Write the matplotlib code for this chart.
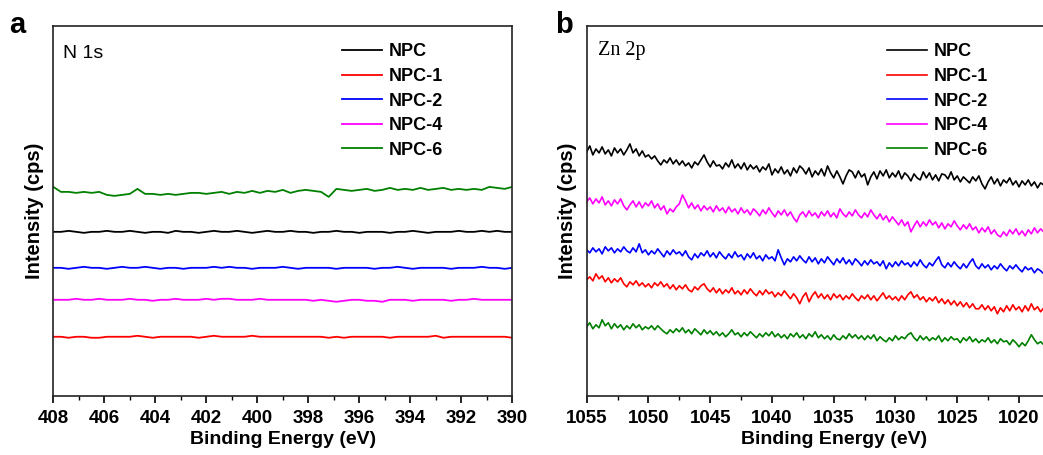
import numpy as np
import matplotlib
matplotlib.use("Agg")
import matplotlib.pyplot as plt
from matplotlib.ticker import MultipleLocator, FixedLocator

plt.rcParams['font.family'] = ['Liberation Sans', 'DejaVu Sans']

# --- Data (arbitrary intensity units)
labels = ["NPC", "NPC-1", "NPC-2", "NPC-4", "NPC-6"]
colors = ["#000000", "#ff0000", "#0000ff", "#ff00ff", "#008000"]

# Panel a: N 1s, 408 -> 390 eV in 0.3 eV steps (61 points)
energy_a = np.linspace(408, 390, 61)
npc_a = [164, 164, 165, 164, 163, 164, 164, 165, 164, 164, 165, 164, 163, 164, 164, 163,
         165, 164, 164, 163, 164, 165, 164, 164, 165, 164, 163, 164, 165, 164, 164, 165,
         164, 164, 163, 164, 164, 165, 164, 164, 163, 164, 164, 164, 163, 164, 164, 165,
         164, 163, 164, 164, 164, 165, 164, 164, 165, 164, 165, 164, 164]
npc1_a = [59, 59, 58, 59, 59, 58, 58, 59, 59, 59, 59, 60, 59, 58, 59, 59, 59, 59, 59, 58,
          59, 60, 59, 59, 59, 59, 60, 59, 59, 59, 59, 59, 59, 59, 59, 59, 58, 59, 58, 59,
          59, 59, 59, 59, 58, 59, 59, 59, 59, 59, 60, 58, 59, 59, 59, 59, 59, 59, 59, 59, 58]
npc2_a = [128, 128, 127, 128, 129, 128, 128, 127, 128, 129, 128, 128, 129, 128, 127, 128,
          128, 127, 128, 128, 128, 129, 128, 129, 128, 128, 127, 128, 128, 128, 129, 128,
          127, 128, 128, 128, 128, 127, 128, 128, 128, 128, 127, 128, 128, 129, 128, 127,
          128, 128, 128, 128, 127, 128, 128, 128, 129, 128, 128, 127, 128]
npc4_a = [96, 96, 96, 97, 96, 96, 97, 96, 96, 96, 97, 96, 96, 95, 96, 96, 97, 96, 96, 96,
          97, 96, 97, 97, 96, 96, 96, 97, 96, 96, 96, 96, 96, 96, 95, 96, 95, 94, 95, 96,
          96, 95, 95, 94, 96, 96, 96, 95, 96, 96, 96, 96, 95, 96, 96, 97, 96, 96, 96, 96, 96]
npc6_a = [209, 204, 204, 203, 204, 203, 204, 201, 200, 201, 202, 207, 202, 202, 201, 202,
          201, 202, 203, 203, 202, 203, 204, 202, 204, 203, 205, 203, 205, 204, 206, 203,
          205, 206, 205, 204, 199, 207, 206, 205, 206, 207, 205, 206, 208, 206, 207, 206,
          208, 206, 207, 208, 206, 207, 206, 207, 206, 209, 208, 207, 209]

# Panel b: Zn 2p, 1055 -> 1017.75 eV in 0.25 eV steps (150 points)
energy_b = np.linspace(1055, 1017.75, 150)
npc_b = [244, 250, 241, 247, 243, 249, 242, 246, 240, 248,
         243, 247, 241, 246, 252, 243, 247, 240, 245, 239,
         241, 237, 240, 235, 231, 236, 233, 238, 232, 236,
         231, 235, 230, 233, 228, 234, 231, 236, 241, 234,
         229, 235, 230, 231, 227, 233, 229, 236, 228, 232,
         227, 233, 226, 231, 227, 230, 224, 229, 226, 232,
         221, 227, 223, 229, 222, 226, 220, 228, 223, 230,
         227, 222, 228, 219, 225, 221, 227, 220, 230, 223,
         218, 225, 219, 212, 220, 226, 224, 218, 225, 219,
         222, 211, 219, 224, 217, 225, 220, 226, 218, 223,
         219, 225, 217, 223, 220, 215, 222, 218, 216, 224,
         218, 223, 216, 221, 215, 222, 221, 217, 224, 216,
         220, 214, 219, 216, 213, 219, 215, 220, 212, 207,
         214, 219, 212, 217, 210, 216, 213, 218, 211, 215,
         209, 215, 211, 216, 210, 214, 208, 213, 211, 209]
npc1_b = [116, 119, 115, 122, 117, 120, 114, 118, 113, 117,
          114, 118, 112, 109, 114, 111, 115, 110, 113, 109,
          112, 108, 113, 110, 114, 109, 112, 107, 111, 106,
          110, 107, 111, 106, 104, 109, 106, 110, 112, 107,
          104, 108, 103, 107, 102, 106, 103, 108, 102, 105,
          101, 106, 102, 107, 103, 100, 105, 101, 106, 102,
          104, 99, 103, 100, 105, 101, 97, 102, 98, 92,
          99, 103, 94, 100, 104, 98, 102, 97, 101, 96,
          102, 98, 101, 96, 100, 97, 102, 98, 95, 100,
          97, 101, 96, 100, 95, 99, 103, 97, 100, 96,
          99, 95, 100, 96, 101, 104, 98, 101, 96, 99,
          94, 98, 95, 99, 93, 97, 92, 96, 91, 95,
          90, 94, 89, 93, 88, 92, 87, 87, 91, 86,
          90, 85, 89, 82, 88, 84, 90, 85, 91, 86,
          89, 84, 90, 85, 92, 86, 89, 84, 88, 91]
npc2_b = [146, 143, 148, 144, 147, 142, 149, 145, 148, 143,
          147, 144, 149, 145, 143, 148, 144, 152, 143, 146,
          141, 145, 142, 147, 143, 139, 145, 141, 146, 142,
          144, 140, 145, 139, 136, 142, 138, 143, 140, 145,
          139, 143, 138, 144, 140, 137, 142, 138, 144, 139,
          141, 136, 142, 138, 143, 137, 140, 135, 141, 137,
          139, 135, 146, 138, 131, 137, 134, 139, 135, 140,
          136, 133, 139, 134, 138, 132, 137, 133, 139, 135,
          131, 137, 133, 138, 132, 136, 131, 137, 134, 130,
          135, 131, 136, 132, 134, 130, 135, 127, 133, 129,
          134, 130, 135, 131, 133, 129, 134, 130, 136, 131,
          128, 133, 130, 135, 139, 131, 128, 133, 129, 134,
          130, 127, 132, 128, 133, 137, 130, 127, 132, 128,
          131, 126, 130, 127, 132, 128, 125, 130, 127, 131,
          127, 124, 129, 126, 128, 123, 127, 125, 122, 124]
npc4_b = [194, 198, 192, 197, 193, 199, 191, 195, 190, 196,
          192, 197, 190, 186, 191, 195, 189, 194, 188, 193,
          190, 195, 188, 192, 186, 190, 182, 187, 184, 189,
          192, 201, 195, 188, 193, 187, 191, 185, 190, 186,
          189, 184, 190, 185, 188, 183, 189, 184, 187, 182,
          188, 183, 186, 181, 187, 184, 180, 186, 182, 188,
          183, 179, 185, 181, 186, 180, 184, 178, 174, 181,
          184, 179, 185, 180, 183, 178, 184, 180, 185, 179,
          183, 178, 187, 182, 179, 184, 180, 186, 181, 178,
          183, 179, 186, 181, 177, 182, 176, 180, 174, 179,
          175, 171, 176, 170, 174, 164, 170, 175, 169, 174,
          170, 176, 171, 174, 168, 173, 167, 172, 169, 175,
          170, 166, 171, 167, 172, 166, 169, 163, 168, 164,
          169, 162, 166, 161, 159, 164, 160, 166, 162, 167,
          161, 165, 160, 166, 162, 168, 163, 167, 164, 167]
npc6_b = [69, 73, 67, 71, 68, 76, 70, 73, 67, 72,
          68, 71, 66, 70, 67, 72, 68, 71, 66, 69,
          67, 70, 66, 70, 67, 64, 62, 66, 63, 67,
          64, 68, 63, 66, 62, 67, 64, 61, 66, 62,
          65, 61, 64, 60, 63, 59, 62, 66, 61, 63,
          59, 63, 60, 64, 61, 58, 62, 59, 63, 60,
          64, 59, 62, 58, 61, 57, 62, 59, 63, 58,
          61, 57, 62, 59, 64, 58, 61, 57, 60, 56,
          61, 57, 56, 60, 57, 62, 58, 61, 57, 60,
          56, 60, 57, 61, 55, 59, 56, 54, 58, 55,
          60, 56, 59, 57, 61, 63, 58, 55, 60, 56,
          59, 55, 58, 56, 60, 54, 58, 55, 59, 56,
          57, 53, 58, 55, 59, 54, 57, 53, 56, 54,
          58, 53, 56, 52, 57, 54, 55, 51, 56, 53,
          49, 53, 50, 55, 61, 56, 52, 54, 51, 53]

series_a = [npc_a, npc1_a, npc2_a, npc4_a, npc6_a]
series_b = [npc_b, npc1_b, npc2_b, npc4_b, npc6_b]
ticks_b = [1055, 1050, 1045, 1040, 1035, 1030, 1025, 1020]

# --- Figure
fig = plt.figure(figsize=(10.43, 4.55), dpi=100)
ax1 = fig.add_axes([0.0511, 0.1303, 0.4401, 0.8125])
ax2 = fig.add_axes([0.5625, 0.1303, 0.4737, 0.8125])


def style_axis(ax, xlim, minor):
    ax.set_xlim(xlim)
    ax.set_ylim(0, 370)
    ax.xaxis.set_minor_locator(MultipleLocator(minor))
    ax.set_yticks([])
    ax.tick_params(axis='x', which='major', direction='out', length=5, width=1.2,
                   labelsize=13.5, pad=5.5)
    ax.tick_params(axis='x', which='minor', direction='out', length=3, width=1.0)
    for lab in ax.get_xticklabels():
        lab.set_fontweight('bold')
    for sp in ax.spines.values():
        sp.set_linewidth(1.2)
        sp.set_color('#222222')
    ax.set_xlabel("Binding Energy (eV)", fontsize=14, fontweight='bold', labelpad=3)
    ax.set_ylabel("Intensity (cps)", fontsize=14.5, fontweight='bold', labelpad=7)


legend_kw = dict(loc='upper left', frameon=False, handlelength=2.25, handletextpad=0.35,
                 labelspacing=0.42, borderpad=0, borderaxespad=0,
                 prop={'weight': 'bold', 'size': 13})

# --- Panel a: N 1s
for y, c, lab in zip(series_a, colors, labels):
    ax1.plot(energy_a, y, color=c, lw=1.3, label=lab)
ax1.xaxis.set_major_locator(MultipleLocator(2))
style_axis(ax1, (408, 390), 1)
ax1.text(0.022, 0.925, "N 1s", transform=ax1.transAxes, fontsize=14, va='center')
ax1.legend(bbox_to_anchor=(0.628, 0.953), **legend_kw)

# --- Panel b: Zn 2p
for y, c, lab in zip(series_b, colors, labels):
    ax2.plot(energy_b, y, color=c, lw=1.2, label=lab)
ax2.xaxis.set_major_locator(FixedLocator(ticks_b))
style_axis(ax2, (1055, 1015), 2.5)
ax2.text(0.022, 0.935, "Zn 2p", transform=ax2.transAxes, fontsize=14.5, va='center',
         family=['Liberation Serif', 'DejaVu Serif'])
ax2.legend(bbox_to_anchor=(0.607, 0.953), **legend_kw)

# --- Panel letters
fig.text(0.009, 0.945, "a", fontsize=21, fontweight='bold', va='center')
fig.text(0.532, 0.945, "b", fontsize=21, fontweight='bold', va='center')

fig.savefig("out.png", dpi=100)
